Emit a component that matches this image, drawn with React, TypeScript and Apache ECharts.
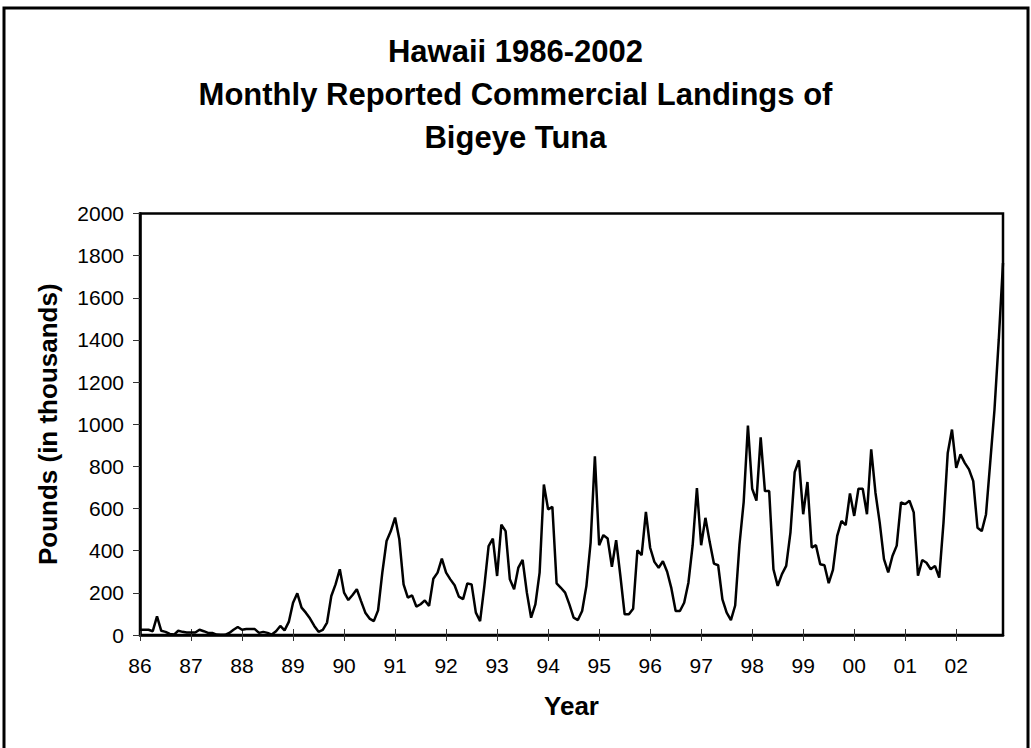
import React, { useEffect, useRef } from "react";
import * as echarts from "echarts";

const titleLines = [
  "Hawaii 1986-2002",
  "Monthly Reported Commercial Landings of",
  "Bigeye Tuna",
];
const yAxisTitle = "Pounds (in thousands)";
const xAxisTitle = "Year";

const yearLabels = ["86", "87", "88", "89", "90", "91", "92", "93", "94", "95", "96", "97", "98", "99", "00", "01", "02"];

// Monthly landings, thousands of pounds (Jan..Dec) per year
const y1986 = [25, 25, 25, 18, 88, 20, 15, 5, 2, 20, 15, 12];
const y1987 = [12, 12, 25, 18, 10, 10, 2, 1, 1, 10, 25, 38];
const y1988 = [25, 28, 28, 28, 10, 15, 10, 2, 18, 43, 22, 62];
const y1989 = [153, 198, 130, 106, 78, 43, 15, 24, 59, 185, 240, 312];
const y1990 = [201, 166, 190, 217, 161, 106, 78, 66, 117, 296, 446, 493];
const y1991 = [557, 454, 240, 177, 188, 135, 146, 164, 138, 267, 296, 362];
const y1992 = [296, 264, 236, 182, 170, 245, 240, 106, 66, 232, 422, 457];
const y1993 = [280, 524, 493, 264, 217, 320, 356, 201, 82, 145, 296, 714];
const y1994 = [596, 608, 245, 224, 201, 145, 82, 71, 114, 232, 440, 848];
const y1995 = [426, 474, 458, 324, 450, 280, 98, 98, 125, 402, 379, 584];
const y1996 = [414, 347, 319, 350, 300, 221, 114, 114, 153, 248, 426, 697];
const y1997 = [426, 556, 442, 339, 331, 169, 106, 71, 140, 426, 631, 994];
const y1998 = [694, 638, 938, 683, 683, 312, 233, 289, 328, 486, 773, 829];
const y1999 = [573, 726, 415, 426, 336, 331, 246, 309, 470, 541, 521, 672];
const y2000 = [565, 694, 694, 573, 881, 675, 533, 360, 297, 375, 424, 629];
const y2001 = [621, 637, 582, 281, 356, 343, 312, 328, 272, 532, 864, 975];
const y2002 = [793, 857, 817, 786, 730, 509, 493, 572, 820, 1070, 1400, 1765];

const yearlySeries = [y1986, y1987, y1988, y1989, y1990, y1991, y1992, y1993, y1994, y1995, y1996, y1997, y1998, y1999, y2000, y2001, y2002];

const yMin = 0;
const yMax = 2000;
const yInterval = 200;

const FONT = "'Liberation Sans', Arial, Helvetica, sans-serif";

export default function App() {
  const ref = useRef<HTMLDivElement | null>(null);

  useEffect(() => {
    if (!ref.current) return;
    const chart = echarts.init(ref.current, null, { renderer: "svg" });

    const categories: string[] = [];
    const values: number[] = [];
    yearLabels.forEach((yr, yi) => {
      yearlySeries[yi].forEach((v, m) => {
        categories.push(yr + "-" + (m + 1));
        values.push(v);
      });
    });

    const labelFmt = (val: string) => {
      const parts = val.split("-");
      return parts[1] === "1" ? parts[0] : "";
    };

    chart.setOption({
      animation: false,
      backgroundColor: "#ffffff",
      graphic: [
        {
          type: "text",
          x: 515.5,
          y: 30,
          silent: true,
          style: {
            text: titleLines.join("\n"),
            textAlign: "center",
            textVerticalAlign: "top",
            fontFamily: FONT,
            fontSize: 31,
            fontWeight: "bold",
            lineHeight: 43,
            fill: "#000",
          },
        },
        {
          type: "rect",
          shape: { x: 4, y: 8, width: 1024, height: 800 },
          style: { fill: "none", stroke: "#000", lineWidth: 3 },
          silent: true,
          z: 100,
        },
      ],
      grid: {
        left: 140,
        right: 28,
        top: 213.5,
        bottom: 113,
        show: true,
        borderColor: "#000",
        borderWidth: 2.5,
        backgroundColor: "transparent",
      },
      xAxis: [
        {
          type: "category",
          data: categories,
          boundaryGap: false,
          position: "bottom",
          name: xAxisTitle,
          nameLocation: "middle",
          nameGap: 58,
          nameTextStyle: {
            fontFamily: FONT,
            fontSize: 26,
            fontWeight: "bold",
            color: "#000",
            lineHeight: 26,
          },
          axisLine: { show: true, lineStyle: { color: "#000", width: 2.5 } },
          axisTick: {
            show: true,
            interval: 11,
            length: 6,
            lineStyle: { color: "#333", width: 1 },
          },
          axisLabel: {
            interval: 11,
            margin: 20,
            formatter: labelFmt,
            fontFamily: FONT,
            fontSize: 21,
            color: "#000",
          },
          splitLine: { show: false },
        },
        {
          type: "category",
          data: categories,
          boundaryGap: false,
          position: "bottom",
          axisLine: { show: false },
          axisTick: {
            show: true,
            inside: true,
            interval: 11,
            length: 6,
            lineStyle: { color: "#333", width: 1 },
          },
          axisLabel: { show: false },
          splitLine: { show: false },
        },
      ],
      yAxis: {
        type: "value",
        min: yMin,
        max: yMax,
        interval: yInterval,
        name: yAxisTitle,
        nameLocation: "middle",
        nameGap: 79,
        nameRotate: 90,
        nameTextStyle: {
          fontFamily: FONT,
          fontSize: 26,
          fontWeight: "bold",
          color: "#000",
          lineHeight: 26,
        },
        axisLine: { show: true, lineStyle: { color: "#000", width: 2.5 } },
        axisTick: {
          show: true,
          length: 7,
          lineStyle: { color: "#333", width: 1 },
        },
        axisLabel: {
          margin: 16,
          fontFamily: FONT,
          fontSize: 21,
          color: "#000",
          formatter: (v: number) => String(v),
        },
        splitLine: { show: false },
      },
      series: [
        {
          type: "line",
          xAxisIndex: 0,
          data: values,
          showSymbol: false,
          symbol: "none",
          lineStyle: { color: "#000", width: 2.5 },
          z: 5,
        },
      ],
    });

    return () => {
      chart.dispose();
    };
  }, []);

  return (
    <div
      ref={ref}
      style={{
        position: "absolute",
        left: 0,
        top: 0,
        width: 1031,
        height: 748,
        background: "#fff",
      }}
    />
  );
}
